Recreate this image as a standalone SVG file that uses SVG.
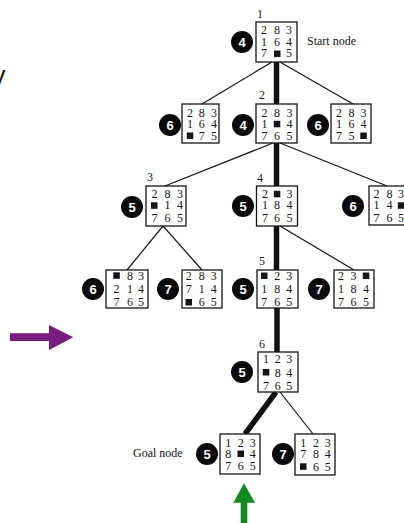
<svg xmlns="http://www.w3.org/2000/svg" width="404" height="523" viewBox="0 0 404 523">
  <style>
    .box { fill: #fff; stroke: #151515; stroke-width: 1.3; }
    .d { font-family: "Liberation Serif", "Times New Roman", serif; font-size: 12px; fill: #151515; text-anchor: middle; }
    .blank { fill: #151515; }
    .badge { fill: #0a0a0a; }
    .bn { font-family: "Liberation Sans", Arial, sans-serif; font-weight: bold; font-size: 13px; fill: #fff; text-anchor: middle; }
    .lvl { font-family: "Liberation Serif", "Times New Roman", serif; font-size: 12px; fill: #151515; text-anchor: middle; }
    .cap { font-family: "Liberation Serif", "Times New Roman", serif; font-size: 12px; fill: #151515; }
    .thin { stroke: #151515; stroke-width: 1.2; fill: none; }
    .thick { stroke: #111; stroke-width: 5.5; fill: none; }
  </style>

  <!-- partial letter at the left edge -->
  <text x="-7.5" y="83.5" font-family="Liberation Sans, Arial, sans-serif" font-size="26" fill="#111">y</text>

  <!-- search tree edges -->
  <g id="connectors">
    <path class="thin" d="M272,62 L202,104"/>
    <path class="thin" d="M280,62 L353,104"/>
    <path class="thin" d="M273,143 L165,186"/>
    <path class="thin" d="M280,143 L387,186"/>
    <path class="thin" d="M163,226 L127,270"/>
    <path class="thin" d="M163,226 L202,270"/>
    <path class="thin" d="M280,226 L354,270"/>
    <path class="thin" d="M280,392 L313,434"/>
    <path class="thick" d="M276.5,62 V104"/>
    <path class="thick" d="M276.5,143 V186"/>
    <path class="thick" d="M276.5,226 V270"/>
    <path class="thick" d="M277,308 V352"/>
    <path class="thick" d="M276,392 L245,434"/>
  </g>

  <!-- node 1: start -->
  <g id="n1">
    <text class="lvl" x="260" y="18">1</text>
    <circle class="badge" cx="242" cy="42" r="11"/>
    <text class="bn" x="242" y="46.5">4</text>
    <rect class="box" x="256" y="22" width="41" height="40"/>
    <text class="d" x="264 277 289" y="34.3">283</text>
    <text class="d" x="264 277 289" y="45.6">164</text>
    <text class="d" x="264 289" y="57">75</text>
    <rect class="blank" x="274" y="50.5" width="6.5" height="6.5"/>
    <text class="cap" x="307" y="45">Start node</text>
  </g>

  <!-- level 2 -->
  <g id="n2a">
    <circle class="badge" cx="170" cy="125" r="11"/>
    <text class="bn" x="170" y="129.5">6</text>
    <rect class="box" x="182" y="104" width="37" height="39"/>
    <text class="d" x="190 201.7 214" y="117.3">283</text>
    <text class="d" x="190 201.7 214" y="128.3">164</text>
    <text class="d" x="201.7 214" y="139.5">75</text>
    <rect class="blank" x="186.8" y="132.5" width="6.5" height="6.5"/>
  </g>
  <g id="n2">
    <text class="lvl" x="262" y="99">2</text>
    <circle class="badge" cx="243" cy="125" r="11"/>
    <text class="bn" x="243" y="129.5">4</text>
    <rect class="box" x="256" y="104" width="41" height="39"/>
    <text class="d" x="264.5 277 289.5" y="117.3">283</text>
    <text class="d" x="264.5 289.5" y="128.3">14</text>
    <text class="d" x="264.5 277 289.5" y="139.5">765</text>
    <rect class="blank" x="273.8" y="120.8" width="6.5" height="6.5"/>
  </g>
  <g id="n2c">
    <circle class="badge" cx="318" cy="125" r="11"/>
    <text class="bn" x="318" y="129.5">6</text>
    <rect class="box" x="331" y="104" width="40" height="39"/>
    <text class="d" x="339 351.5 363.5" y="117.3">283</text>
    <text class="d" x="339 351.5 363.5" y="128.3">164</text>
    <text class="d" x="339 351.5" y="139.5">75</text>
    <rect class="blank" x="360.3" y="132.5" width="6.5" height="6.5"/>
  </g>

  <!-- level 3 -->
  <g id="n3">
    <text class="lvl" x="150" y="181">3</text>
    <circle class="badge" cx="132" cy="207" r="11"/>
    <text class="bn" x="132" y="211.5">5</text>
    <rect class="box" x="146" y="186" width="40" height="40"/>
    <text class="d" x="154.5 167.5 180" y="197.5">283</text>
    <text class="d" x="167.5 180" y="209">14</text>
    <text class="d" x="154.5 167.5 180" y="222">765</text>
    <rect class="blank" x="151" y="202.3" width="6.5" height="6.5"/>
  </g>
  <g id="n4">
    <text class="lvl" x="260" y="182">4</text>
    <circle class="badge" cx="243" cy="206" r="11"/>
    <text class="bn" x="243" y="210.5">5</text>
    <rect class="box" x="256.5" y="186" width="41" height="40"/>
    <text class="d" x="265 289.5" y="197.5">23</text>
    <text class="d" x="265 277 289.5" y="209">184</text>
    <text class="d" x="265 277 289.5" y="222">765</text>
    <rect class="blank" x="273.8" y="190.8" width="6.5" height="6.5"/>
  </g>
  <g id="n3c">
    <circle class="badge" cx="353" cy="206" r="11"/>
    <text class="bn" x="353" y="210.5">6</text>
    <rect class="box" x="369" y="186" width="42" height="39"/>
    <text class="d" x="376.5 389.5 401" y="197.5">283</text>
    <text class="d" x="376.5 389.5" y="209">14</text>
    <text class="d" x="376.5 389.5 401" y="222">765</text>
    <rect class="blank" x="397.8" y="202.3" width="6.5" height="6.5"/>
  </g>

  <!-- level 4 -->
  <g id="n3a1">
    <circle class="badge" cx="93" cy="289" r="11"/>
    <text class="bn" x="93" y="293.5">6</text>
    <rect class="box" x="106" y="270" width="42" height="38"/>
    <text class="d" x="130 141" y="279.5">83</text>
    <text class="d" x="116.5 130 141" y="293">214</text>
    <text class="d" x="116.5 130 141" y="305.5">765</text>
    <rect class="blank" x="113.3" y="272.3" width="6.5" height="6.5"/>
  </g>
  <g id="n3a2">
    <circle class="badge" cx="168" cy="289" r="11"/>
    <text class="bn" x="168" y="293.5">7</text>
    <rect class="box" x="182" y="270" width="40" height="38"/>
    <text class="d" x="188.7 201.7 213.7" y="279.5">283</text>
    <text class="d" x="188.7 201.7 213.7" y="293">714</text>
    <text class="d" x="201.7 213.7" y="305.5">65</text>
    <rect class="blank" x="185.5" y="299" width="6.5" height="6.5"/>
  </g>
  <g id="n5">
    <text class="lvl" x="262" y="265">5</text>
    <circle class="badge" cx="243" cy="289" r="11"/>
    <text class="bn" x="243" y="293.5">5</text>
    <rect class="box" x="257" y="270" width="41" height="38"/>
    <text class="d" x="277.3 289.3" y="279.5">23</text>
    <text class="d" x="264.3 277.3 289.3" y="293">184</text>
    <text class="d" x="264.3 277.3 289.3" y="305.5">765</text>
    <rect class="blank" x="261" y="272.5" width="6.5" height="6.5"/>
  </g>
  <g id="n4c">
    <circle class="badge" cx="319" cy="289" r="11"/>
    <text class="bn" x="319" y="293.5">7</text>
    <rect class="box" x="334" y="270" width="40" height="38"/>
    <text class="d" x="341 353.5" y="279.5">23</text>
    <text class="d" x="341 353.5 366" y="293">184</text>
    <text class="d" x="341 353.5 366" y="305.5">765</text>
    <rect class="blank" x="362.8" y="272.5" width="6.5" height="6.5"/>
  </g>

  <!-- level 5 -->
  <g id="n6">
    <text class="lvl" x="262" y="348">6</text>
    <circle class="badge" cx="242" cy="372" r="11"/>
    <text class="bn" x="242" y="376.5">5</text>
    <rect class="box" x="258" y="352" width="40" height="40"/>
    <text class="d" x="266 277.7 289.3" y="363.3">123</text>
    <text class="d" x="277.7 289.3" y="376.5">84</text>
    <text class="d" x="266 277.7 289.3" y="389.5">765</text>
    <rect class="blank" x="262.8" y="369" width="6.5" height="6.5"/>
  </g>

  <!-- level 6: goal -->
  <g id="goal">
    <text class="cap" x="133" y="457">Goal node</text>
    <circle class="badge" cx="207" cy="454" r="11"/>
    <text class="bn" x="207" y="458.5">5</text>
    <rect class="box" x="220" y="434" width="40" height="40"/>
    <text class="d" x="228.3 240.7 252.7" y="446.5">123</text>
    <text class="d" x="228.3 252.7" y="458.3">84</text>
    <text class="d" x="228.3 240.7 252.7" y="470">765</text>
    <rect class="blank" x="237.5" y="450.5" width="6.5" height="6.5"/>
  </g>
  <g id="n6c">
    <circle class="badge" cx="283" cy="454" r="11"/>
    <text class="bn" x="283" y="458.5">7</text>
    <rect class="box" x="295" y="434" width="40" height="41"/>
    <text class="d" x="303.3 316 327.7" y="446.5">123</text>
    <text class="d" x="303.3 316 327.7" y="458.3">784</text>
    <text class="d" x="316 327.7" y="470.5">65</text>
    <rect class="blank" x="300" y="463.3" width="6.5" height="6.5"/>
  </g>

  <!-- pointer arrows -->
  <g id="arrow-purple">
    <polygon fill="#7a1c7e" points="10,333.3 49,333.3 49,325 73.3,337.3 49,350 49,341 10,341"/>
  </g>
  <g id="arrow-green">
    <polygon fill="#128a1e" points="244,483.3 255,502.7 247.3,502.7 247.3,523 240.7,523 240.7,502.7 233.3,502.7"/>
  </g>
</svg>
